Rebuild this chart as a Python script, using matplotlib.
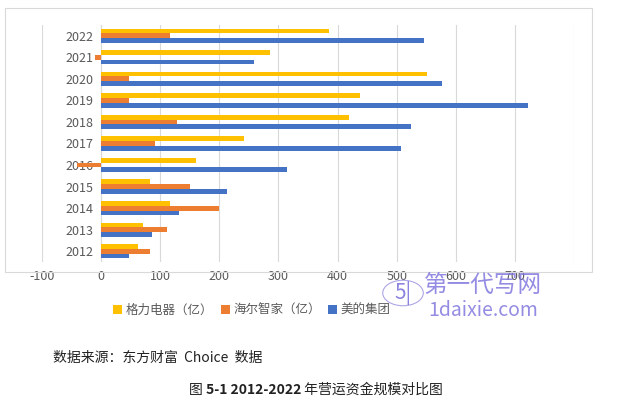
import matplotlib.pyplot as plt
import numpy as np
from matplotlib.patches import Rectangle, Circle

plt.rcParams['font.family'] = ['Noto Sans CJK SC', 'DejaVu Sans']

# 数据（亿元），读图估计
years = ['2012', '2013', '2014', '2015', '2016', '2017', '2018', '2019', '2020', '2021', '2022']
gree = [62, 71, 116, 82, 160, 241, 420, 438, 551, 286, 386]
haier = [83, 112, 200, 151, -40, 92, 129, 47, 47, -11, 116]
midea = [47, 86, 132, 213, 314, 507, 525, 722, 576, 259, 547]

labels = ['格力电器（亿）', '海尔智家（亿）', '美的集团']
colors = ['#FFC000', '#ED7D31', '#4472C4']

fig = plt.figure(figsize=(6.34, 3.98), dpi=100)
ax = fig.add_axes([42/634, 1-262/398, (574-42)/634, (262-25)/398])

y = np.arange(len(years))
h = 0.22
ax.barh(y + h, gree, height=h, color=colors[0], label=labels[0], zorder=3)
ax.barh(y, haier, height=h, color=colors[1], label=labels[1], zorder=3)
ax.barh(y - h, midea, height=h, color=colors[2], label=labels[2], zorder=3)

ax.set_xlim(-100, 800)
ax.set_ylim(-0.5, 10.5)
ax.set_xticks(range(-100, 801, 100))
ax.set_xticklabels([str(v) for v in range(-100, 701, 100)] + [''])
ax.set_yticks(y)
ax.set_yticklabels(years)
ax.grid(axis='x', color='#D9D9D9', linewidth=0.8, zorder=0)
ax.axvline(0, color='#D9D9D9', linewidth=0.8, zorder=1)
for s in ax.spines.values():
    s.set_visible(False)
ax.tick_params(length=0, labelsize=9, colors='#595959')
ax.tick_params(axis='x', pad=6)
# 年份标签放在0轴左侧（轴内）
ax.tick_params(axis='y', pad=-51*72/100)

# 图表外框
fig.patches.append(Rectangle((5/634, 1-272/398), 587/634, 264/398, transform=fig.transFigure,
                             fill=False, edgecolor='#D9D9D9', linewidth=0.8))

leg = fig.legend(loc='center', bbox_to_anchor=(252/634, 1-310/398), ncol=3, frameon=False,
                 fontsize=9, handlelength=0.7, handleheight=0.7, handletextpad=0.3,
                 columnspacing=0.6, borderaxespad=0)
for t in leg.get_texts():
    t.set_color('#595959')

# 水印
fig.patches.append(Circle((403/634, 1-293/398), 0.032, transform=fig.transFigure,
                          fill=False, edgecolor='#8A80DD', linewidth=0.8, alpha=0.7))
fig.text(403/634, 1-293/398, '5|', fontsize=15, color='#6F63D8', ha='center', va='center', alpha=0.8)
fig.text(483/634, 1-285/398, '第一代写网', fontsize=17, color='#7A70DC', ha='center', va='center', alpha=0.8)
fig.text(483/634, 1-311/398, '1daixie.com', fontsize=14, color='#7A70DC', ha='center', va='center', alpha=0.8)

fig.text(53/634, 1-358/398, '数据来源：东方财富  Choice  数据', fontsize=10, color='#222222', va='center')

# 图题：编号部分加粗
r = fig.canvas.get_renderer()
parts = [('图 ', 'normal'), ('5-1 2012-2022', 'bold'), (' 年营运资金规模对比图', 'normal')]
objs = [fig.text(0, 1-390/398, s, fontsize=10, color='#222222', va='center', fontweight=w) for s, w in parts]
widths = [o.get_window_extent(r).width for o in objs]
x0 = 316 - sum(widths) / 2
for o, w in zip(objs, widths):
    o.set_x(x0/634)
    x0 += w

fig.savefig('out.png', dpi=100)
